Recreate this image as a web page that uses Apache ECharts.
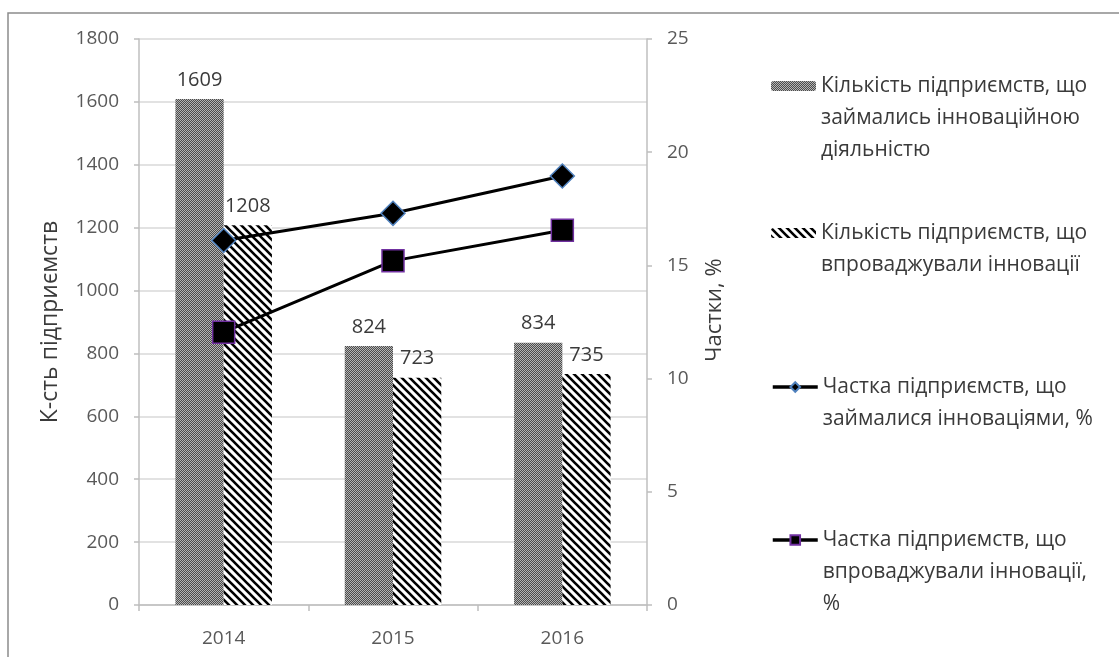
<!DOCTYPE html>
<html><head><meta charset="utf-8">
<script src="https://cdn.jsdelivr.net/npm/echarts@6/dist/echarts.min.js"></script>
<style>html,body{margin:0;padding:0;background:#fff}#c{width:1119px;height:657px}</style>
</head><body><div id="c"></div>
<script>
const years = ['2014', '2015', '2016'];
const innovActiveCount = [1609, 824, 834];
const implementedCount = [1208, 723, 735];
const innovActiveShare = [16.1, 17.3, 18.95];
const implementedShare = [12.05, 15.2, 16.55];
const seriesNames = [
  'Кількість підприємств, що займались інноваційною діяльністю',
  'Кількість підприємств, що впроваджували інновації',
  'Частка підприємств, що займалися інноваціями, %',
  'Частка підприємств, що впроваджували інновації, %'
];
const legendLines = [
  ['Кількість підприємств, що', 'займались інноваційною', 'діяльністю'],
  ['Кількість підприємств, що', 'впроваджували інновації'],
  ['Частка підприємств, що', 'займалися інноваціями, %'],
  ['Частка підприємств, що', 'впроваджували інновації,', '%']
];
const leftAxisName = 'К-сть підприємств';
const rightAxisName = 'Частки, %';

const FONT = 'Open Sans';
const LH = 32;
const legendFirstLineY = [86, 233, 387, 540];

function checkerPattern() {
  const c = document.createElement('canvas');
  c.width = 4; c.height = 4;
  const g = c.getContext('2d');
  g.fillStyle = '#4c4c4c'; g.fillRect(0, 0, 4, 4);
  g.fillStyle = '#b4b4b4';
  g.fillRect(0, 0, 1, 1); g.fillRect(2, 0, 1, 1);
  g.fillRect(1, 1, 1, 1); g.fillRect(3, 1, 1, 1);
  g.fillRect(0, 2, 1, 1); g.fillRect(2, 2, 1, 1);
  g.fillRect(1, 3, 1, 1); g.fillRect(3, 3, 1, 1);
  return c;
}
function stripePattern() {
  const c = document.createElement('canvas');
  c.width = 8; c.height = 8;
  const g = c.getContext('2d');
  g.fillStyle = '#ffffff'; g.fillRect(0, 0, 8, 8);
  g.strokeStyle = '#000000'; g.lineWidth = 2.6;
  g.beginPath();
  g.moveTo(-2, -2); g.lineTo(10, 10);
  g.moveTo(-2, 6); g.lineTo(2, 10);
  g.moveTo(6, -2); g.lineTo(10, 2);
  g.stroke();
  return c;
}
const pat1 = { image: checkerPattern(), repeat: 'repeat' };
const pat2 = { image: stripePattern(), repeat: 'repeat' };

const chart = echarts.init(document.getElementById('c'), null, { renderer: 'canvas' });
const axisGray = '#bfbfbf';
const labelStyle = { fontFamily: FONT, fontSize: 19, color: '#595959', formatter: v => String(v) };

function legendText(i) {
  const n = legendLines[i].length;
  return '\n'.repeat(n - 1) + legendLines[i].join('\n');
}

const option = {
  animation: false,
  backgroundColor: '#ffffff',
  textStyle: { fontFamily: FONT },
  graphic: [{
    type: 'rect', shape: { x: 8, y: 13, width: 1300, height: 800 },
    style: { fill: 'none', stroke: '#8c8c8c', lineWidth: 1.5 }, silent: true, z: 0
  }],
  grid: { left: 139, right: 472, top: 39, bottom: 52 },
  legend: seriesNames.map((n, i) => ({
    data: [n],
    left: 771,
    top: legendFirstLineY[i] - (2 * legendLines[i].length - 1) * LH / 2,
    padding: 0,
    itemWidth: 45,
    itemHeight: i < 2 ? 10 : 12,
    selectedMode: false,
    lineStyle: { width: 3.5 },
    formatter: () => legendText(i),
    textStyle: { fontFamily: FONT, fontSize: 21, color: '#3a3a3a', lineHeight: LH }
  })),
  xAxis: {
    type: 'category', data: years,
    axisLine: { lineStyle: { color: axisGray, width: 1.5 } },
    axisTick: { show: true, length: 6, lineStyle: { color: axisGray, width: 1.5 } },
    axisLabel: Object.assign({}, labelStyle, { margin: 24 })
  },
  yAxis: [{
    type: 'value', min: 0, max: 1800, interval: 200,
    name: leftAxisName, nameLocation: 'middle', nameRotate: 90, nameGap: 77,
    nameTextStyle: { fontFamily: FONT, fontSize: 23, color: '#3a3a3a' },
    axisLine: { show: true, lineStyle: { color: axisGray, width: 1.5 } },
    axisTick: { show: true, length: 5, lineStyle: { color: axisGray, width: 1.5 } },
    splitLine: { lineStyle: { color: '#d9d9d9', width: 1.5 } },
    axisLabel: Object.assign({}, labelStyle, { margin: 20 })
  }, {
    type: 'value', min: 0, max: 25, interval: 5, position: 'right',
    name: rightAxisName, nameLocation: 'middle', nameRotate: 90, nameGap: 57,
    nameTextStyle: { fontFamily: FONT, fontSize: 22, color: '#3a3a3a', padding: [0, 0, 0, 24] },
    axisLine: { show: true, lineStyle: { color: axisGray, width: 1.5 } },
    axisTick: { show: true, length: 5, lineStyle: { color: axisGray, width: 1.5 } },
    splitLine: { show: false },
    axisLabel: Object.assign({}, labelStyle, { margin: 20 })
  }],
  series: [{
    name: seriesNames[0], type: 'bar', yAxisIndex: 0, data: innovActiveCount,
    barGap: '0%', barCategoryGap: '43%',
    itemStyle: { color: pat1 },
    label: { show: true, position: 'top', distance: 9, fontFamily: FONT, fontSize: 20, color: '#3a3a3a' }
  }, {
    name: seriesNames[1], type: 'bar', yAxisIndex: 0, data: implementedCount,
    barGap: '0%', barCategoryGap: '43%',
    itemStyle: { color: pat2 },
    label: { show: true, position: 'top', distance: 9, fontFamily: FONT, fontSize: 20, color: '#3a3a3a' }
  }, {
    name: seriesNames[2], type: 'line', yAxisIndex: 1, data: innovActiveShare,
    symbol: 'diamond', symbolSize: 24, z: 5,
    lineStyle: { color: '#000', width: 3 },
    itemStyle: { color: '#000', borderColor: '#4f81bd', borderWidth: 1.5 }
  }, {
    name: seriesNames[3], type: 'line', yAxisIndex: 1, data: implementedShare,
    symbol: 'rect', symbolSize: 22, z: 5,
    lineStyle: { color: '#000', width: 3 },
    itemStyle: { color: '#000', borderColor: '#7030a0', borderWidth: 1.5 }
  }]
};
chart.setOption(option);
</script></body></html>
